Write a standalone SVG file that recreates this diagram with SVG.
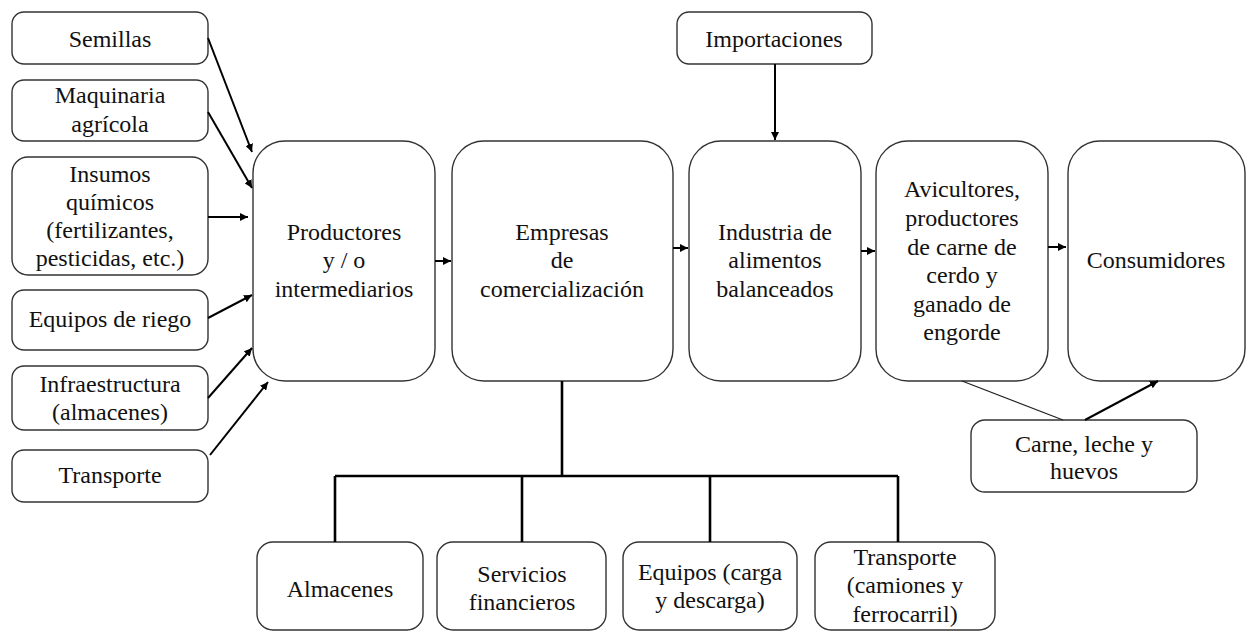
<svg xmlns="http://www.w3.org/2000/svg" width="1248" height="632" viewBox="0 0 1248 632">
<style>
.box{fill:#fff;stroke:#333;stroke-width:1.4}
.t{font-family:"Liberation Serif","Times New Roman",serif;font-size:24px;fill:#111;text-anchor:middle}
.arr{stroke:#000;stroke-width:2;fill:none;marker-end:url(#ah)}
.thin{stroke:#222;stroke-width:1.3;fill:none}
.tree{stroke:#000;stroke-width:2.6;fill:none}
</style>
<defs>
<marker id="ah" viewBox="0 0 10 10" refX="10" refY="5" markerWidth="8" markerHeight="8" markerUnits="userSpaceOnUse" orient="auto">
<path d="M0,0 L10,5 L0,10 z" fill="#000"/>
</marker>
</defs>
<rect width="1248" height="632" fill="#fff"/>

<g id="semillas"><rect class="box" x="12" y="12" width="196" height="52" rx="12"/><text class="t" x="110" y="47">Semillas</text></g>
<g id="maquinaria"><rect class="box" x="12" y="80" width="196" height="61" rx="12"/><text class="t" x="110" y="103">Maquinaria</text><text class="t" x="110" y="132">agrícola</text></g>
<g id="insumos"><rect class="box" x="12" y="157" width="196" height="118" rx="16"/><text class="t" x="110" y="182">Insumos</text><text class="t" x="110" y="210">químicos</text><text class="t" x="110" y="238">(fertilizantes,</text><text class="t" x="110" y="266">pesticidas, etc.)</text></g>
<g id="riego"><rect class="box" x="12" y="290" width="196" height="60" rx="12"/><text class="t" x="110" y="327">Equipos de riego</text></g>
<g id="infraestructura"><rect class="box" x="12" y="366" width="196" height="64" rx="12"/><text class="t" x="110" y="392">Infraestructura</text><text class="t" x="110" y="420">(almacenes)</text></g>
<g id="transporte1"><rect class="box" x="12" y="450" width="196" height="52" rx="12"/><text class="t" x="110" y="483">Transporte</text></g>

<g id="productores"><rect class="box" x="253" y="141" width="182" height="240" rx="32"/><text class="t" x="344" y="240">Productores</text><text class="t" x="344" y="268">y / o</text><text class="t" x="344" y="297">intermediarios</text></g>
<g id="empresas"><rect class="box" x="452" y="141" width="221" height="240" rx="32"/><text class="t" x="562" y="240">Empresas</text><text class="t" x="562" y="268">de</text><text class="t" x="562" y="297">comercialización</text></g>
<g id="importaciones"><rect class="box" x="677" y="12" width="195" height="52" rx="12"/><text class="t" x="774" y="47">Importaciones</text></g>
<g id="industria"><rect class="box" x="689" y="141" width="172" height="240" rx="32"/><text class="t" x="775" y="240">Industria de</text><text class="t" x="775" y="268">alimentos</text><text class="t" x="775" y="297">balanceados</text></g>
<g id="avicultores"><rect class="box" x="876" y="141" width="172" height="240" rx="32"/><text class="t" x="962" y="197">Avicultores,</text><text class="t" x="962" y="226">productores</text><text class="t" x="962" y="255">de carne de</text><text class="t" x="962" y="283">cerdo y</text><text class="t" x="962" y="312">ganado de</text><text class="t" x="962" y="340">engorde</text></g>
<g id="consumidores"><rect class="box" x="1068" y="141" width="177" height="240" rx="32"/><text class="t" x="1156" y="268">Consumidores</text></g>
<g id="carne"><rect class="box" x="971" y="420" width="226" height="72" rx="14"/><text class="t" x="1084" y="452">Carne, leche y</text><text class="t" x="1084" y="479">huevos</text></g>

<g id="almacenes"><rect class="box" x="257" y="542" width="166" height="88" rx="16"/><text class="t" x="340" y="597">Almacenes</text></g>
<g id="servicios"><rect class="box" x="437" y="542" width="169" height="88" rx="16"/><text class="t" x="522" y="582">Servicios</text><text class="t" x="522" y="610">financieros</text></g>
<g id="equipos"><rect class="box" x="623" y="542" width="174" height="88" rx="16"/><text class="t" x="710" y="580">Equipos (carga</text><text class="t" x="710" y="608">y descarga)</text></g>
<g id="transporte2"><rect class="box" x="815" y="542" width="180" height="88" rx="16"/><text class="t" x="905" y="565">Transporte</text><text class="t" x="905" y="593">(camiones y</text><text class="t" x="905" y="622">ferrocarril)</text></g>

<g id="connectors">
<line class="arr" x1="208" y1="38" x2="252" y2="152"/>
<line class="arr" x1="208" y1="112" x2="252" y2="188"/>
<line class="arr" x1="208" y1="217" x2="248" y2="217"/>
<line class="arr" x1="208" y1="318" x2="252" y2="295"/>
<line class="arr" x1="208" y1="398" x2="252" y2="348"/>
<line class="arr" x1="210" y1="455" x2="268" y2="382"/>
<line class="arr" x1="435" y1="261" x2="451" y2="261"/>
<line class="arr" x1="673" y1="248" x2="688" y2="248"/>
<line class="arr" x1="861" y1="251" x2="875" y2="251"/>
<line class="arr" x1="1048" y1="247" x2="1066" y2="247"/>
<line class="arr" x1="775" y1="64" x2="775" y2="140"/>
<line class="thin" x1="962" y1="381" x2="1063" y2="420"/>
<line class="arr" x1="1085" y1="420" x2="1158" y2="381"/>
<path class="tree" d="M562,381 V476 M335,476 H898 M335,476 V542 M522,476 V542 M710,476 V542 M898,476 V542"/>
</g>
</svg>
